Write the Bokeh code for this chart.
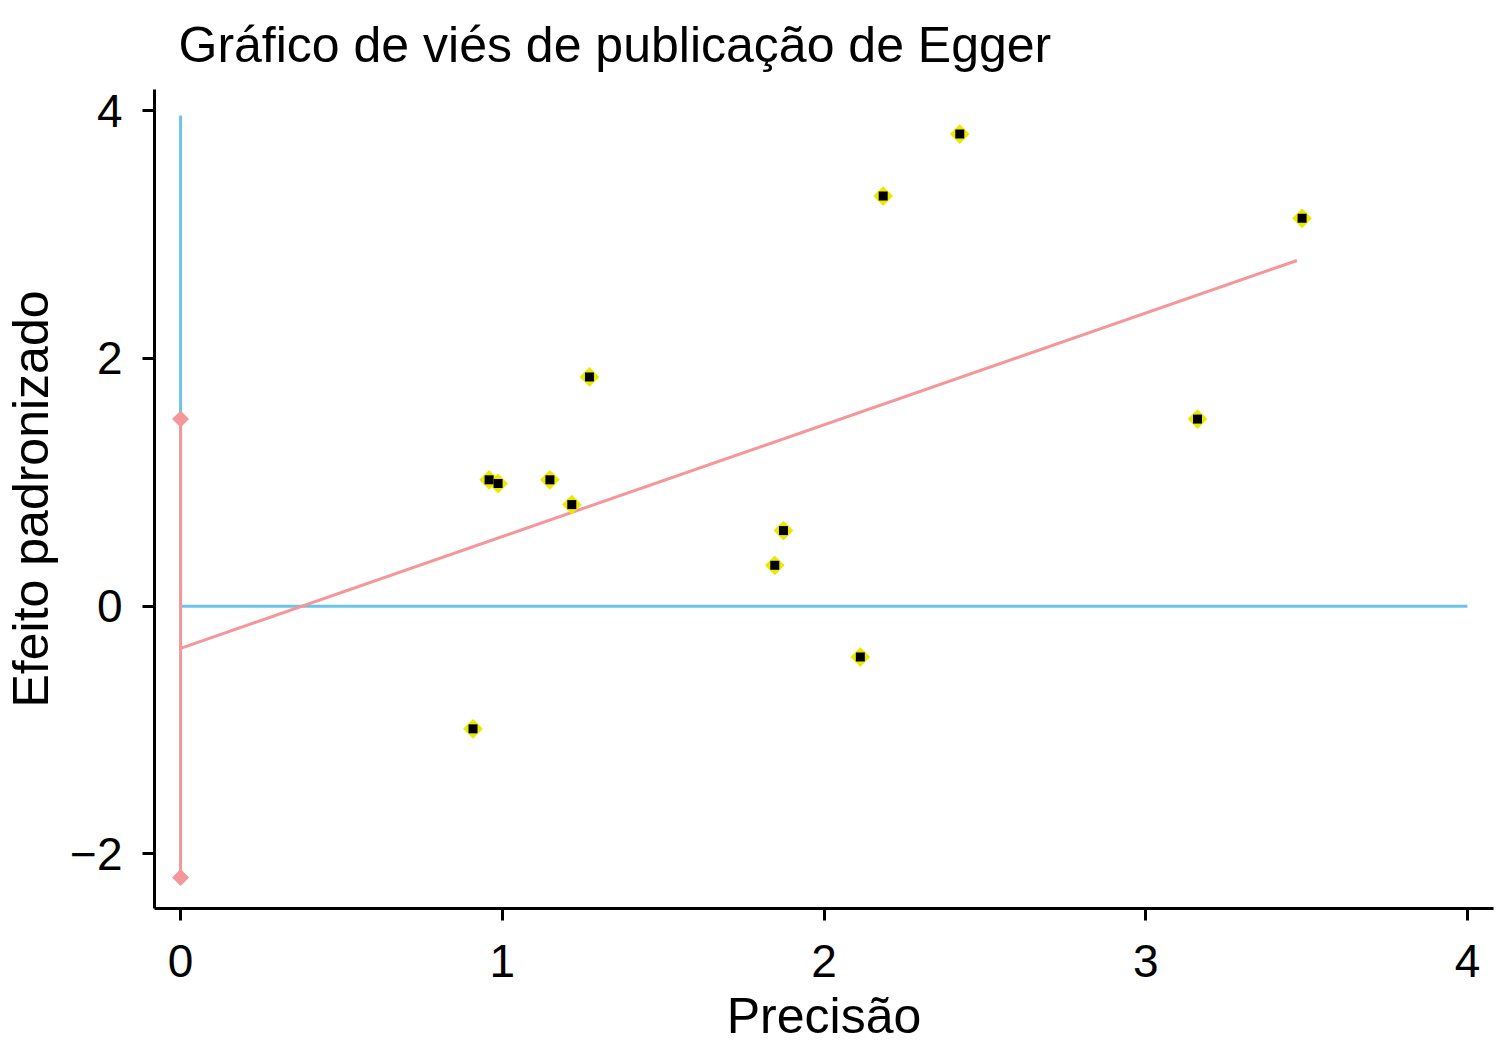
from bokeh.plotting import figure
from bokeh.models import Range1d, FixedTicker, Title
from bokeh.embed import file_html
from bokeh.resources import INLINE

# Data
precision = [0.909, 0.959, 0.987, 1.148, 1.216, 1.271, 1.847, 1.874, 2.113, 2.184, 2.422, 3.161, 3.486]
std_effect = [-0.99, 1.02, 0.99, 1.02, 0.82, 1.85, 0.33, 0.61, -0.41, 3.31, 3.81, 1.51, 3.13]

fit_x = [0.0, 3.47]
fit_y = [-0.34, 2.79]

ci_x = [0.0, 0.0]
ci_y = [-2.19, 1.51]

ref_v_x = [0.0, 0.0]
ref_v_y = [0.0, 3.96]
ref_h_x = [0.0, 4.0]
ref_h_y = [0.0, 0.0]

x_ticks = [0, 1, 2, 3, 4]
y_ticks = [-2, 0, 2, 4]

TITLE = "Gráfico de viés de publicação de Egger"

FONT = "Liberation Sans"
BLUE = "#6CC5E9"
PINK = "#F4979A"

p = figure(width=1494, height=1046, output_backend="svg", toolbar_location=None,
           x_range=Range1d(-0.081, 4.081), y_range=Range1d(-2.44, 4.17),
           min_border_left=151, min_border_right=1, min_border_top=89, min_border_bottom=137)

p.add_layout(Title(text=TITLE, text_font=FONT, text_font_size="50px", text_font_style="normal",
                   text_color="black", align="left", vertical_align="top",
                   offset=24, standoff=29), "above")

p.outline_line_color = None
p.xgrid.visible = False
p.ygrid.visible = False
p.background_fill_color = "white"
p.border_fill_color = "white"

# reference lines
p.line(ref_v_x, ref_v_y, line_color=BLUE, line_width=3)
p.line(ref_h_x, ref_h_y, line_color=BLUE, line_width=3)

# CI of intercept
p.line(ci_x, ci_y, line_color=PINK, line_width=3)
p.scatter(ci_x, ci_y, marker="square", size=12, angle=0.785398, fill_color=PINK, line_color=None)

# regression line
p.line(fit_x, fit_y, line_color=PINK, line_width=3)

# points
p.scatter(precision, std_effect, marker="square", size=14, angle=0.785398, fill_color="#EAEA00", line_color=None)
p.scatter(precision, std_effect, marker="square", size=9, fill_color="black", line_color=None)

for ax in (p.xaxis, p.yaxis):
    ax.axis_line_color = "black"
    ax.axis_line_width = 3
    ax.major_tick_line_color = "black"
    ax.major_tick_line_width = 3
    ax.major_tick_out = 12
    ax.major_tick_in = 0
    ax.minor_tick_line_color = None
    ax.major_label_text_font = FONT
    ax.major_label_text_font_size = "46px"
    ax.major_label_text_color = "black"
    ax.axis_label_text_font = FONT
    ax.axis_label_text_font_size = "50px"
    ax.axis_label_text_font_style = "normal"
    ax.axis_label_text_color = "black"

p.xaxis.ticker = FixedTicker(ticks=x_ticks)
p.yaxis.ticker = FixedTicker(ticks=y_ticks)
p.xaxis.major_label_overrides = {v: str(v) for v in x_ticks}
p.yaxis.major_label_overrides = {v: ("\u2212" + str(-v) if v < 0 else str(v)) for v in y_ticks}
p.yaxis.major_label_orientation = "horizontal"
p.xaxis.major_label_standoff = 24
p.yaxis.major_label_standoff = 20
p.xaxis.axis_label = "Precisão"
p.yaxis.axis_label = "Efeito padronizado"
p.xaxis.axis_label_standoff = 8
p.yaxis.axis_label_standoff = 8

open("out.html", "w").write(file_html(p, INLINE))
